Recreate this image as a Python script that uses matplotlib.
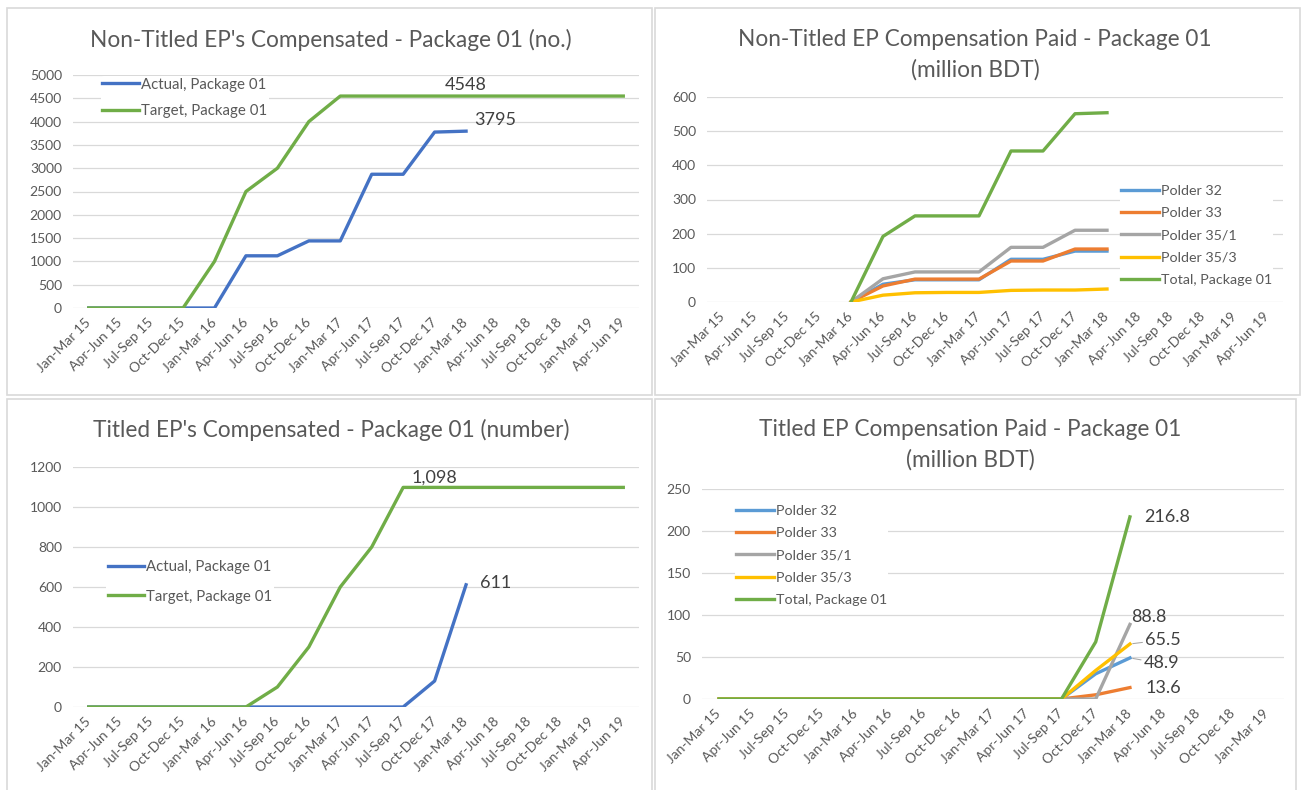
import numpy as np
import matplotlib
matplotlib.use("Agg")
import matplotlib.pyplot as plt
from matplotlib.patches import Rectangle

plt.rcParams['font.family'] = ['Lato', 'DejaVu Sans']

# ── Data ──────────────────────────────────────────────────────────────────────
quarters = ["Jan-Mar 15", "Apr-Jun 15", "Jul-Sep 15", "Oct-Dec 15",
            "Jan-Mar 16", "Apr-Jun 16", "Jul-Sep 16", "Oct-Dec 16",
            "Jan-Mar 17", "Apr-Jun 17", "Jul-Sep 17", "Oct-Dec 17",
            "Jan-Mar 18", "Apr-Jun 18", "Jul-Sep 18", "Oct-Dec 18",
            "Jan-Mar 19", "Apr-Jun 19"]
quarters_tp = quarters[:17]          # titled paid chart stops at Jan-Mar 19

nan = np.nan

# Non-Titled EP's compensated (no.)
nt_actual = [0, 0, 0, 0, 0, 1120, 1120, 1440, 1440, 2870, 2870, 3775, 3795,
             nan, nan, nan, nan, nan]
nt_target = [0, 0, 0, 0, 1000, 2500, 3000, 4000, 4548, 4548, 4548, 4548, 4548,
             4548, 4548, 4548, 4548, 4548]

# Non-Titled EP compensation paid (million BDT)
ntp_p32   = [nan, nan, nan, nan, 0, 52, 65, 65, 65, 125, 125, 149, 149, nan, nan, nan, nan, nan]
ntp_p33   = [nan, nan, nan, nan, 0, 47, 67, 67, 67, 120, 120, 155, 155, nan, nan, nan, nan, nan]
ntp_p351  = [nan, nan, nan, nan, 0, 68, 88, 88, 88, 160, 160, 210, 210, nan, nan, nan, nan, nan]
ntp_p353  = [nan, nan, nan, nan, 0, 20, 27, 28, 28, 34, 35, 35, 38, nan, nan, nan, nan, nan]
ntp_total = [nan, nan, nan, nan, 0, 192, 252, 252, 252, 442, 442, 551, 554, nan, nan, nan, nan, nan]

# Titled EP's compensated (number)
t_actual = [0, 0, 0, 0, 0, 0, 0, 0, 0, 0, 0, 130, 611, nan, nan, nan, nan, nan]
t_target = [0, 0, 0, 0, 0, 0, 100, 300, 600, 800, 1098, 1098, 1098, 1098, 1098,
            1098, 1098, 1098]

# Titled EP compensation paid (million BDT)
tp_p32   = [0, 0, 0, 0, 0, 0, 0, 0, 0, 0, 0, 30, 48.9, nan, nan, nan, nan]
tp_p33   = [0, 0, 0, 0, 0, 0, 0, 0, 0, 0, 0, 5, 13.6, nan, nan, nan, nan]
tp_p351  = [0, 0, 0, 0, 0, 0, 0, 0, 0, 0, 0, 0, 88.8, nan, nan, nan, nan]
tp_p353  = [0, 0, 0, 0, 0, 0, 0, 0, 0, 0, 0, 34, 65.5, nan, nan, nan, nan]
tp_total = [0, 0, 0, 0, 0, 0, 0, 0, 0, 0, 0, 68, 216.8, nan, nan, nan, nan]

polder_names = ["Polder 32", "Polder 33", "Polder 35/1", "Polder 35/3", "Total, Package 01"]

# ── Style ─────────────────────────────────────────────────────────────────────
W, H = 1303, 790
TXT   = "#595959"
GRID  = "#D9D9D9"
BLUE  = "#4472C4"
GREEN = "#70AD47"
polder_colors = ["#5B9BD5", "#ED7D31", "#A5A5A5", "#FFC000", GREEN]
LW = 2.4
TITLE_FS = 16.3
TICK_FS = 10
LAB_FS = 13

fig = plt.figure(figsize=(W / 100, H / 100), dpi=100)
fig.patch.set_facecolor("white")


def px_axes(x0, y0, x1, y1):
    """Axes from pixel box (top-left origin)."""
    return fig.add_axes([x0 / W, 1 - y1 / H, (x1 - x0) / W, (y1 - y0) / H])


def frame(x0, y0, x1, y1):
    fig.add_artist(Rectangle((x0 / W, 1 - y1 / H), (x1 - x0) / W, (y1 - y0) / H,
                             transform=fig.transFigure, fill=False,
                             edgecolor=GRID, linewidth=1.2))


def style(ax, labels, ymax, ystep):
    ax.set_xlim(-0.5, len(labels) - 0.5)
    ax.set_ylim(0, ymax)
    ax.set_yticks(np.arange(0, ymax + 1, ystep))
    ax.set_xticks(range(len(labels)))
    ax.set_xticklabels(labels, rotation=45, ha="right", va="center",
                       rotation_mode="anchor")
    ax.grid(axis="y", color=GRID, linewidth=0.9)
    ax.set_axisbelow(True)
    for s in ax.spines.values():
        s.set_visible(False)
    ax.tick_params(axis="both", length=0, colors=TXT, labelsize=TICK_FS)
    ax.tick_params(axis="y", pad=8)
    ax.tick_params(axis="x", pad=9)


def legend(ax, x, y, fs, hl, **kw):
    leg = ax.legend(loc="upper left", bbox_to_anchor=(x / W, 1 - y / H),
                    bbox_transform=fig.transFigure, frameon=True,
                    facecolor="white", edgecolor="none", framealpha=1,
                    borderpad=0.1, borderaxespad=0, handlelength=hl,
                    handletextpad=0.15, fontsize=fs, **kw)
    for t in leg.get_texts():
        t.set_color(TXT)
    return leg


frame(7, 8, 652, 395)
frame(655, 8, 1300, 395)
frame(7, 399, 652, 792)
frame(655, 399, 1296, 792)

# ── Panel 1: Non-Titled EP's compensated ─────────────────────────────────────
ax1 = px_axes(73, 75, 639, 308)
x = np.arange(len(quarters))
ax1.plot(x, nt_actual, color=BLUE, lw=LW, label="Actual, Package 01")
ax1.plot(x, nt_target, color=GREEN, lw=LW, label="Target, Package 01")
style(ax1, quarters, 5000, 500)
legend(ax1, 101, 76, 10.8, 2.4, labelspacing=0.85)
ax1.annotate(f"{nt_target[12]:.0f}", (12, nt_target[12]), xytext=(0, 2),
             textcoords="offset points", ha="center", va="bottom",
             fontsize=LAB_FS, color="#404040")
ax1.annotate(f"{nt_actual[12]:.0f}", (12, nt_actual[12]), xytext=(6, 8),
             textcoords="offset points", ha="left", va="center",
             fontsize=LAB_FS, color="#404040")
fig.text(331 / W, 1 - 40 / H, "Non-Titled EP's Compensated - Package 01 (no.)",
         ha="center", va="center", fontsize=TITLE_FS, color=TXT)

# ── Panel 2: Non-Titled EP compensation paid ─────────────────────────────────
ax2 = px_axes(707, 97, 1283, 302)
for vals, c, name in zip([ntp_p32, ntp_p33, ntp_p351, ntp_p353, ntp_total],
                         polder_colors, polder_names):
    ax2.plot(x, vals, color=c, lw=LW, label=name)
style(ax2, quarters, 600, 100)
legend(ax2, 1120, 184, 10.3, 2.6, labelspacing=0.7)
fig.text(975 / W, 1 - 40 / H, "Non-Titled EP Compensation Paid - Package 01",
         ha="center", va="center", fontsize=TITLE_FS, color=TXT)
fig.text(975 / W, 1 - 70 / H, "(million BDT)",
         ha="center", va="center", fontsize=TITLE_FS, color=TXT)

# ── Panel 3: Titled EP's compensated ─────────────────────────────────────────
ax3 = px_axes(73, 467, 639, 707)
ax3.plot(x, t_actual, color=BLUE, lw=LW, label="Actual, Package 01")
ax3.plot(x, t_target, color=GREEN, lw=LW, label="Target, Package 01")
style(ax3, quarters, 1200, 200)
legend(ax3, 106, 559, 10.8, 2.4, labelspacing=1.0)
ax3.annotate(f"{t_target[11]:,.0f}", (11, t_target[11]), xytext=(0, 1),
             textcoords="offset points", ha="center", va="bottom",
             fontsize=LAB_FS, color="#404040")
ax3.annotate(f"{t_actual[12]:.0f}", (12, t_actual[12]), xytext=(10, 1),
             textcoords="offset points", ha="left", va="center",
             fontsize=LAB_FS, color="#404040")
fig.text(331 / W, 1 - 430 / H, "Titled EP's Compensated - Package 01 (number)",
         ha="center", va="center", fontsize=TITLE_FS, color=TXT)

# ── Panel 4: Titled EP compensation paid ─────────────────────────────────────
ax4 = px_axes(702, 489, 1284, 699)
x4 = np.arange(len(quarters_tp))
tp_series = [tp_p32, tp_p33, tp_p351, tp_p353, tp_total]
for vals, c, name in zip(tp_series, polder_colors, polder_names):
    ax4.plot(x4, vals, color=c, lw=LW, label=name)
style(ax4, quarters_tp, 250, 50)
legend(ax4, 735, 504, 10.3, 2.6, labelspacing=0.7)

lab_kw = dict(textcoords="offset points", ha="left", va="center",
              fontsize=LAB_FS, color="#404040")
lead = dict(arrowstyle="-", color="#A6A6A6", lw=0.75, shrinkA=0, shrinkB=2)
ax4.annotate(f"{tp_total[12]}", (12, tp_total[12]), xytext=(10, 0), **lab_kw)
ax4.annotate(f"{tp_p351[12]}", (12, tp_p351[12]), xytext=(1, 5), **lab_kw)
ax4.annotate(f"{tp_p353[12]}", (12, tp_p353[12]), xytext=(11, 3),
             arrowprops=lead, **lab_kw)
ax4.annotate(f"{tp_p32[12]}", (12, tp_p32[12]), xytext=(10, -4),
             arrowprops=lead, **lab_kw)
ax4.annotate(f"{tp_p33[12]}", (12, tp_p33[12]), xytext=(11, 0), **lab_kw)
fig.text(970 / W, 1 - 430 / H, "Titled EP Compensation Paid - Package 01",
         ha="center", va="center", fontsize=TITLE_FS, color=TXT)
fig.text(970 / W, 1 - 460 / H, "(million BDT)",
         ha="center", va="center", fontsize=TITLE_FS, color=TXT)

fig.savefig("out.png", dpi=100, facecolor="white")
